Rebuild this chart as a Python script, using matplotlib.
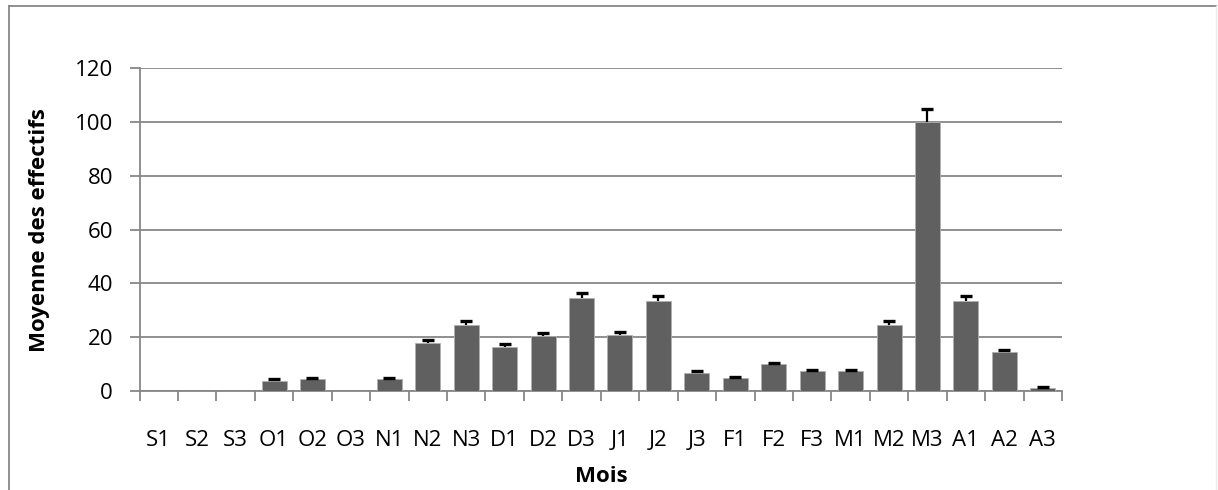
import numpy as np
import matplotlib.pyplot as plt
from matplotlib.lines import Line2D

plt.rcParams['font.family'] = ['Open Sans', 'DejaVu Sans']

# decades (mois + décade)
categories = ['S1', 'S2', 'S3', 'O1', 'O2', 'O3', 'N1', 'N2', 'N3', 'D1', 'D2', 'D3',
              'J1', 'J2', 'J3', 'F1', 'F2', 'F3', 'M1', 'M2', 'M3', 'A1', 'A2', 'A3']
means = [0, 0, 0, 3.8, 4.4, 0, 4.4, 18.0, 24.5, 16.5, 20.5, 34.5,
         21.0, 33.5, 6.8, 4.8, 9.9, 7.4, 7.4, 24.5, 100.0, 33.5, 14.5, 1.3]
errors = [0, 0, 0, 0.6, 0.4, 0, 0.4, 1.0, 1.4, 0.9, 1.1, 2.0,
          1.1, 1.9, 0.6, 0.4, 0.6, 0.5, 0.5, 1.4, 5.0, 1.9, 0.75, 0.3]

BAR = '#606060'
GRID = '#878787'

W, H = 1218, 490
fig = plt.figure(figsize=(W / 100, H / 100), dpi=100)
ax = fig.add_axes([139.5 / W, 1 - 391 / H, (1062 - 139.5) / W, (391 - 68.3) / H])

x = np.arange(len(categories))
means = np.array(means)
errors = np.array(errors)

ax.bar(x, means, width=0.65, color=BAR, edgecolor='#b0b0b0', linewidth=0.6, zorder=3)

# upper error bars only (Excel "plus" style)
has_err = errors > 0
tops = means[has_err] + errors[has_err]
ax.vlines(x[has_err], means[has_err], tops, color='black', linewidth=1.6, zorder=4)
ax.plot(x[has_err], tops, linestyle='none', marker='_', markersize=9,
        markeredgewidth=2.4, color='black', zorder=4)

ax.set_xlim(-0.5, len(categories) - 0.5)
ax.set_ylim(0, 120)
ax.set_yticks(np.arange(0, 121, 20))
ax.yaxis.grid(True, color=GRID, linewidth=1.3, zorder=0)
ax.set_axisbelow(True)

ax.set_xticks(x)
ax.set_xticklabels(categories)
ax.set_xticks(np.arange(-0.5, len(categories)), minor=True)
ax.tick_params(axis='x', which='major', length=0, pad=28, labelsize=16)
ax.tick_params(axis='x', which='minor', length=7, width=1.3, color=GRID, direction='out')
ax.tick_params(axis='y', length=7, width=1.3, color=GRID, pad=12, labelsize=16)

for side in ['top', 'right']:
    ax.spines[side].set_visible(False)
for side in ['left', 'bottom']:
    ax.spines[side].set_color(GRID)
    ax.spines[side].set_linewidth(1.3)

fig.text(40 / W, 1 - 230 / H, 'Moyenne des effectifs', rotation=90,
         ha='center', va='center', fontsize=16, fontweight='bold')
fig.text(601 / W, 1 - 476 / H, 'Mois', ha='center', va='center',
         fontsize=16, fontweight='bold')

# chart frame
fig.add_artist(Line2D([9 / W, 9 / W], [0, 1 - 6 / H], transform=fig.transFigure,
                      color=GRID, linewidth=1.3))
fig.add_artist(Line2D([9 / W, 1216 / W], [1 - 6 / H, 1 - 6 / H], transform=fig.transFigure,
                      color=GRID, linewidth=1.3))
fig.add_artist(Line2D([1216 / W, 1216 / W], [0, 1 - 6 / H], transform=fig.transFigure,
                      color='#ececec', linewidth=1.0))

fig.savefig('out.png', dpi=100)
